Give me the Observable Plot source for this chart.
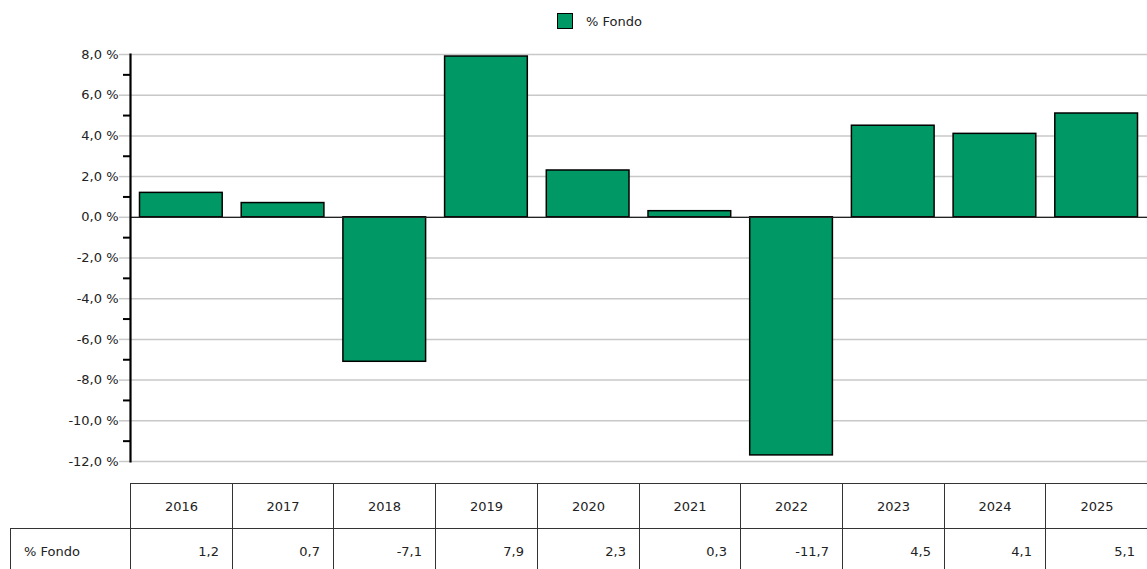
<!DOCTYPE html>
<html>
<head>
<meta charset="utf-8">
<script src="https://cdn.jsdelivr.net/npm/d3@7"></script>
<script src="https://cdn.jsdelivr.net/npm/@observablehq/plot@0.6"></script>
<style>
  html, body { margin: 0; padding: 0; background: #fff; }
  body { width: 1147px; height: 569px; position: relative; overflow: hidden; font-family: "DejaVu Sans", Verdana, sans-serif; color: #222; }
  #legend { position: absolute; top: 13px; left: 557px; height: 16px; display: flex; align-items: center; font-size: 13px; }
  #legend .sw { width: 14px; height: 14px; border: 1px solid #000; margin-right: 13px; }
  #chart { position: absolute; top: 40px; left: 0; }
  #table { position: absolute; top: 483px; left: 0; font-size: 13px; }
  .cell { position: absolute; box-sizing: border-box; display: flex; align-items: center; }
</style>
</head>
<body>
<div id="legend"></div>
<div id="chart"></div>
<div id="table"></div>
<script>
const years = ["2016", "2017", "2018", "2019", "2020", "2021", "2022", "2023", "2024", "2025"];
const fondo = [1.2, 0.7, -7.1, 7.9, 2.3, 0.3, -11.7, 4.5, 4.1, 5.1];
const seriesName = "% Fondo";
const majorTicks = [-12, -10, -8, -6, -4, -2, 0, 2, 4, 6, 8];
const minorTicks = [-11, -9, -7, -5, -3, -1, 1, 3, 5, 7];
const barColor = "#009966";

const data = years.map((y, i) => ({year: y, value: fondo[i]}));
const fmtAxis = d => d.toFixed(1).replace(".", ",") + " %";
const fmtVal = d => d.toFixed(1).replace(".", ",");

// legend
const lg = document.getElementById("legend");
lg.innerHTML = `<div class="sw" style="background:${barColor}"></div><span>${seriesName}</span>`;

const plot = Plot.plot({
  width: 1147,
  height: 443,
  marginTop: 14,
  marginBottom: 22,
  marginLeft: 130,
  marginRight: 0,
  style: {fontFamily: "DejaVu Sans, Verdana, sans-serif", fontSize: "13px", color: "#222"},
  x: {domain: years, padding: 0, round: false, axis: null},
  y: {domain: [-12, 8]},
  marks: [
    Plot.gridY(majorTicks, {stroke: "#c8c8c8", strokeOpacity: 1, strokeWidth: 1.5}),
    Plot.axisY(majorTicks, {tickFormat: fmtAxis, tickSize: 11, tickPadding: 1, stroke: "#c8c8c8", strokeWidth: 1.5, fill: "#222", fontSize: 13, label: null}),
    Plot.axisY(minorTicks, {tickFormat: null, text: null, tickSize: 7, stroke: "#000", strokeWidth: 2, label: null}),
    Plot.barY(data, {x: "year", y: "value", fill: barColor, stroke: "#000", strokeWidth: 1.5, insetLeft: 9.5, insetRight: 9.5}),
    Plot.ruleY([0], {stroke: "#222", strokeWidth: 1.2}),
    Plot.frame({anchor: "left", stroke: "#000", strokeWidth: 2.2})
  ]
});
document.getElementById("chart").appendChild(plot);

// table aligned with the x band scale
const xs = plot.scale("x");
const tbl = document.getElementById("table");
const rowH = 45;
const border = "1px solid #333";
let html = "";
years.forEach((y, i) => {
  const left = Math.round(xs.apply(y));
  const right = i < years.length - 1 ? Math.round(xs.apply(years[i + 1])) : 1148;
  const w = right - left + 1;
  html += `<div class="cell" style="left:${left}px;top:0;width:${w}px;height:${rowH + 1}px;border:${border};justify-content:center;">${y}</div>`;
  html += `<div class="cell" style="left:${left}px;top:${rowH}px;width:${w}px;height:${rowH + 1}px;border:${border};justify-content:flex-end;padding-right:13px;">${fmtVal(fondo[i])}</div>`;
});
const firstLeft = Math.round(xs.apply(years[0]));
html += `<div class="cell" style="left:10px;top:${rowH}px;width:${firstLeft - 10 + 1}px;height:${rowH + 1}px;border:${border};padding-left:13px;">${seriesName}</div>`;
tbl.innerHTML = html;
</script>
</body>
</html>
